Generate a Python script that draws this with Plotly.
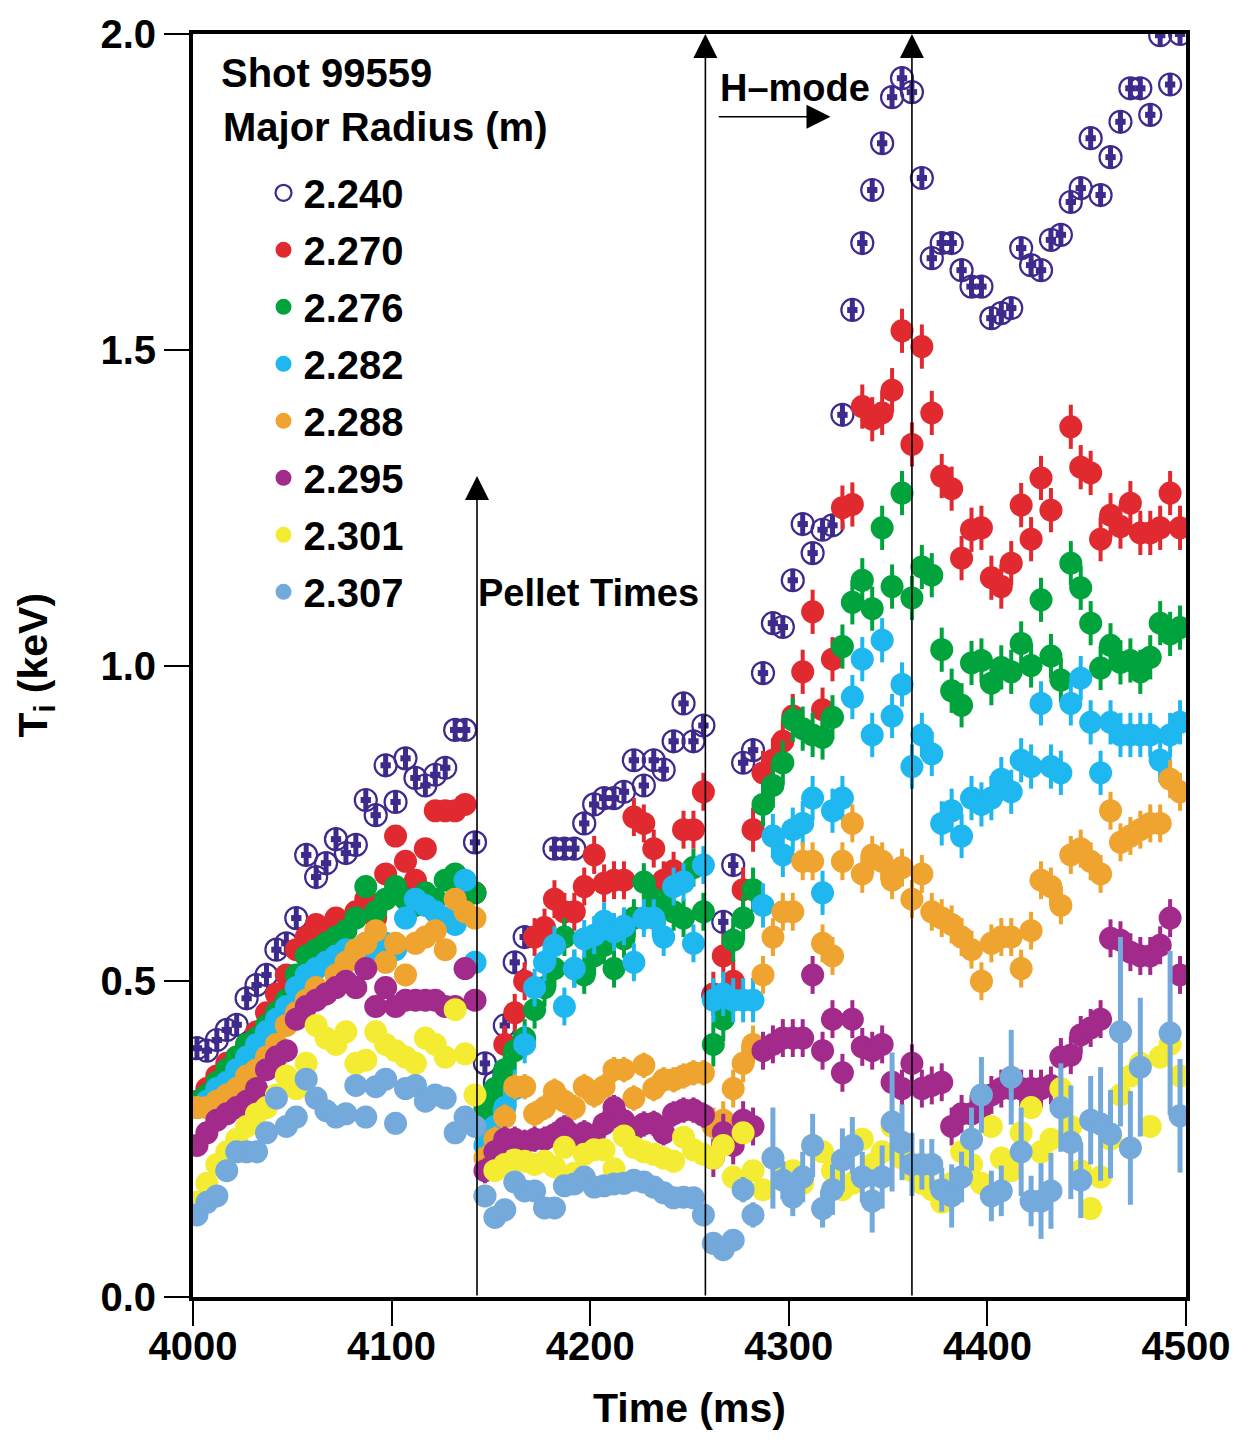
import plotly.graph_objects as go

# ---------------- data ----------------
# sampling times (ms): three pellet-separated segments, 5 ms cadence
TIME = list(range(4002, 4500, 5))  # 100 samples

RADII = ["2.240", "2.270", "2.276", "2.282", "2.288", "2.295", "2.301", "2.307"]

ti_2240 = ([0.394, 0.39, 0.407, 0.423, 0.431, 0.473, 0.494, 0.51, 0.55, 0.56, 0.60, 0.70, 0.665, 0.687,
            0.725, 0.703, 0.716, 0.787, 0.763, 0.842, 0.784, 0.853, 0.822, 0.81, 0.827, 0.838, 0.898, 0.898, 0.72]
           + [0.37, 0.34, 0.43, 0.53, 0.57, None, None, 0.71, 0.71, 0.71, 0.75, 0.78, 0.79, 0.79, 0.80, 0.85,
              0.81, 0.85, 0.835, 0.88, 0.94, 0.88, 0.905]
           + [0.478, 0.594, 0.684, 0.846, 0.866, 0.988, 1.067, 1.061, 1.135, 1.224, 1.178, 1.215, 1.222, 1.397,
              1.563, 1.669, 1.753, 1.827, 1.90, 1.93, 1.908, 1.772, 1.645, 1.669, 1.669, 1.626, 1.60, 1.60, 1.55,
              1.558, 1.566, 1.661, 1.634, 1.626, 1.674, 1.682, 1.734, 1.756, 1.835, 1.745, 1.805, 1.861, 1.914,
              1.914, 1.872, 1.998, 1.92, 2.0])

ti_2270 = ([0.31, 0.33, 0.35, 0.37, 0.38, 0.40, 0.42, 0.45, 0.48, 0.51, 0.55, 0.57, 0.59, 0.58, 0.60, 0.59,
            0.61, 0.63, 0.60, 0.67, 0.73, 0.69, 0.66, 0.71, 0.77, 0.77, 0.77, 0.78, 0.64]
           + [0.26, 0.28, 0.40, 0.45, 0.50, 0.57, 0.585, 0.63, 0.61, 0.61, 0.65, 0.70, 0.655, 0.66, 0.66, 0.76,
              0.75, 0.71, 0.66, 0.675, 0.74, 0.74, 0.80]
           + [0.48, 0.54, 0.50, 0.645, 0.74, 0.83, 0.85, 0.88, 0.92, 0.99, 1.085, 0.93, 1.01, 1.25, 1.255, 1.41,
              1.39, 1.40, 1.436, 1.53, 1.35, 1.505, 1.40, 1.30, 1.28, 1.17, 1.215, 1.218, 1.139, 1.125, 1.162,
              1.254, 1.20, 1.297, 1.246, None, 1.378, 1.314, 1.305, 1.20, 1.238, 1.22, 1.257, 1.21, 1.21, 1.218,
              1.273, 1.218])

ti_2276 = ([0.31, 0.32, 0.34, 0.36, 0.38, 0.40, 0.41, 0.43, 0.45, 0.47, 0.51, 0.54, 0.55, 0.56, 0.57, 0.58,
            0.60, 0.65, 0.61, 0.63, 0.65, 0.63, 0.62, 0.64, 0.63, 0.66, 0.67, 0.65, 0.64]
           + [0.30, 0.33, 0.36, 0.39, 0.41, 0.455, 0.49, 0.52, 0.57, 0.52, 0.51, 0.54, 0.557, 0.52, 0.567, 0.60,
              0.657, 0.63, 0.62, 0.61, 0.60, 0.68, 0.61]
           + [0.40, 0.44, 0.565, 0.60, 0.645, 0.78, 0.81, 0.846, 0.914, 0.90, 0.89, 0.886, 0.918, 1.03, 1.10,
              1.135, 1.09, 1.218, 1.125, 1.273, 1.107, 1.156, 1.143, 1.025, 0.96, 0.937, 1.004, 1.008, 0.972,
              0.997, 0.99, 1.035, 1.00, 1.104, 1.015, 0.977, 1.162, 1.123, 1.067, 0.996, 1.032, 1.005, 1.008,
              0.99, 1.013, 1.067, 1.05, 1.06])

ti_2282 = ([0.30, 0.31, 0.33, 0.34, 0.36, 0.38, 0.40, 0.42, 0.44, 0.46, 0.49, 0.51, 0.52, 0.53, 0.54, 0.55,
            0.54, 0.56, 0.55, 0.56, 0.55, 0.60, 0.63, 0.62, 0.61, 0.60, 0.59, 0.66, 0.53]
           + [0.24, 0.27, 0.30, 0.33, 0.40, 0.49, 0.53, 0.557, 0.46, 0.52, 0.567, 0.573, 0.595, 0.578, 0.587,
              0.53, 0.60, 0.60, 0.57, 0.65, 0.657, 0.56, 0.684]
           + [0.47, 0.48, 0.47, 0.47, 0.47, 0.62, 0.73, 0.70, 0.74, 0.75, 0.79, 0.64, 0.77, 0.79, 0.95, 1.01,
              0.89, 1.04, 0.92, 0.97, 0.84, 0.89, 0.86, 0.75, 0.77, 0.73, 0.79, 0.78, 0.79, 0.82, 0.80, 0.85,
              0.84, 0.94, 0.84, 0.83, 0.94, 0.98, 0.91, 0.83, 0.91, 0.89, 0.89, 0.89, 0.89, 0.85, 0.89, 0.91])

ti_2288 = ([0.30, 0.30, 0.31, 0.32, 0.33, 0.35, 0.36, 0.38, 0.40, 0.43, 0.45, 0.47, 0.49, 0.48, 0.51, 0.53,
            0.55, 0.56, 0.58, 0.53, 0.56, 0.51, 0.56, 0.57, 0.58, 0.55, 0.63, 0.61, 0.60]
           + [0.22, 0.25, 0.285, 0.333, 0.333, 0.29, 0.30, 0.326, 0.31, 0.30, 0.333, 0.32, 0.333, 0.36, 0.36,
              0.315, 0.367, 0.33, 0.344, 0.344, 0.35, 0.355, 0.355]
           + [0.27, 0.28, 0.33, 0.37, 0.40, 0.51, 0.57, 0.61, 0.61, 0.69, 0.69, 0.56, 0.54, 0.69, 0.75, 0.67,
              0.70, 0.69, 0.66, 0.68, 0.63, 0.67, 0.61, 0.60, 0.59, 0.57, 0.55, 0.50, 0.56, 0.57, 0.57, 0.52,
              0.58, 0.66, 0.65, 0.62, 0.70, 0.71, 0.69, 0.67, 0.77, 0.72, 0.73, 0.74, 0.75, 0.75, 0.82, 0.80])

ti_2295 = ([0.24, 0.26, 0.28, 0.29, 0.30, 0.31, 0.33, 0.36, 0.38, 0.39, 0.44, 0.46, 0.47, 0.48, 0.49, 0.50,
            0.49, 0.52, 0.46, 0.49, 0.46, 0.47, 0.47, 0.47, 0.47, 0.46, 0.46, 0.52, 0.47]
           + [0.20, 0.23, 0.25, 0.25, 0.245, 0.25, 0.25, 0.257, 0.268, 0.255, 0.26, 0.255, 0.274, 0.30, 0.279,
              0.265, 0.274, 0.275, 0.26, 0.29, 0.296, 0.296, 0.288]
           + [0.22, 0.26, 0.24, 0.28, 0.27, 0.39, 0.40, 0.41, 0.41, 0.41, 0.51, 0.39, 0.44, 0.355, 0.44, 0.396,
              0.39, 0.40, 0.34, 0.33, 0.37, 0.33, 0.335, 0.34, 0.27, 0.29, 0.29, 0.30, 0.32, 0.33, 0.33, 0.33,
              0.33, 0.33, 0.335, 0.38, 0.383, 0.415, 0.426, 0.44, 0.568, 0.565, 0.546, 0.54, 0.54, 0.557, 0.60,
              0.51])

ti_2301 = ([0.15, 0.18, 0.21, 0.23, 0.25, 0.27, 0.29, 0.30, 0.32, 0.35, 0.33, 0.37, 0.43, 0.41, 0.40, 0.42,
            0.37, 0.375, 0.42, 0.40, 0.39, 0.38, 0.37, 0.41, 0.40, 0.38, 0.455, 0.385, 0.32]
           + [0.16, 0.20, 0.21, 0.217, 0.215, 0.21, 0.215, 0.206, 0.237, 0.196, 0.226, 0.233, 0.233, 0.203,
              0.255, 0.237, 0.23, 0.226, 0.22, 0.215, 0.253, 0.233, 0.226]
           + [0.22, 0.24, 0.19, 0.26, 0.20, 0.17, 0.22, 0.19, 0.20, 0.18, 0.24, 0.23, 0.20, 0.17, 0.18, 0.25,
              0.21, 0.23, 0.27, 0.22, 0.20, 0.18, 0.17, 0.15, 0.18, 0.23, 0.21, 0.18, 0.27, 0.22, 0.20, 0.26,
              0.30, 0.23, 0.25, 0.33, 0.27, 0.20, 0.14, 0.19, 0.25, 0.32, 0.35, 0.37, 0.27, 0.38, 0.40, 0.35])

ti_2307 = ([0.13, 0.15, 0.16, 0.20, 0.23, 0.23, 0.23, 0.26, 0.315, 0.27, 0.285, 0.345, 0.315, 0.295, 0.285,
            0.29, 0.335, 0.285, 0.333, 0.345, 0.275, 0.33, 0.335, 0.31, 0.32, 0.315, 0.26, 0.285, 0.27]
           + [0.16, 0.126, 0.138, 0.182, 0.168, 0.168, 0.141, 0.141, 0.176, 0.179, 0.19, 0.174, 0.176, 0.179,
              0.18, 0.185, 0.182, 0.174, 0.165, 0.157, 0.158, 0.157, 0.13]
           + [0.085, 0.075, 0.09, 0.17, 0.13, None, 0.22, 0.185, 0.158, 0.19, 0.24, 0.14, 0.17, 0.217, 0.24,
              0.19, 0.152, 0.19, 0.277, 0.245, 0.21, 0.21, 0.21, 0.17, 0.16, 0.19, 0.25, 0.32, 0.16, 0.168,
              0.348, 0.23, 0.152, 0.152, 0.168, 0.30, 0.245, 0.185, 0.28, 0.274, 0.258, 0.42, 0.236, 0.364,
              None, None, 0.418, 0.287])

# error bars (keV)
err_2307 = ([0.0] * 29 + [0.0] * 23
            + [0.01, 0.01, 0.01, 0.02, 0.02, 0.0, 0.08, 0.03, 0.03, 0.04, 0.05, 0.03, 0.04, 0.05, 0.045, 0.04,
               0.05, 0.05, 0.11, 0.06, 0.05, 0.04, 0.04, 0.035, 0.05, 0.04, 0.05, 0.06, 0.04, 0.04, 0.075, 0.07,
               0.04, 0.06, 0.06, 0.07, 0.09, 0.06, 0.07, 0.09, 0.07, 0.15, 0.09, 0.11, 0.0, 0.0, 0.13, 0.09])
SEG_LEN = [29, 23, 48]
ERR_SEG = {  # per-segment error for the filled series with small stubs
    "2.270": [0.0, 0.03, 0.035],
    "2.276": [0.0, 0.03, 0.035],
    "2.282": [0.0, 0.03, 0.035],
    "2.288": [0.0, 0.02, 0.03],
    "2.295": [0.0, 0.02, 0.03],
    "2.301": [0.0, 0.0, 0.0],
}
ERR_2240 = 0.017
PELLET_TIMES = [4143, 4258, 4362]
PELLET_TOPS = [1.30, 2.0, 2.0]
HMODE_START, HMODE_END, HMODE_Y = 4264, 4321, 1.869

# ---------------- styles ----------------
COLORS = {
    "2.240": "#3D2A8C",
    "2.270": "#E12A30",
    "2.276": "#00A33C",
    "2.282": "#1EB7EF",
    "2.288": "#EEA42F",
    "2.295": "#A12A8B",
    "2.301": "#F4EC33",
    "2.307": "#74A9DB",
}
FONT = "Liberation Sans, Arial, Helvetica, sans-serif"

series = {
    "2.240": ti_2240, "2.270": ti_2270, "2.276": ti_2276, "2.282": ti_2282,
    "2.288": ti_2288, "2.295": ti_2295, "2.301": ti_2301, "2.307": ti_2307,
}


def seg_err(vals):
    out = []
    for v, n in zip(vals, SEG_LEN):
        out += [v] * n
    return out


fig = go.Figure()
for r in RADII:
    y = series[r]
    if r == "2.240":
        fig.add_trace(go.Scatter(
            x=TIME, y=y, mode="markers", name=r, legendgroup=r,
            marker=dict(symbol="circle-open", size=22, color=COLORS[r], line=dict(width=2.2, color=COLORS[r])),
            error_y=dict(type="constant", value=ERR_2240, color=COLORS[r], thickness=5, width=0),
            error_x=dict(type="constant", value=2.6, color=COLORS[r], thickness=6, width=0),
        ))
    elif r == "2.307":
        fig.add_trace(go.Scatter(
            x=TIME, y=y, mode="markers", name=r, legendgroup=r,
            marker=dict(symbol="circle", size=23, color=COLORS[r], line=dict(width=0)),
            error_y=dict(type="data", array=err_2307, color=COLORS[r], thickness=5, width=0),
        ))
    else:
        fig.add_trace(go.Scatter(
            x=TIME, y=y, mode="markers", name=r, legendgroup=r,
            marker=dict(symbol="circle", size=23, color=COLORS[r], line=dict(width=0)),
            error_y=dict(type="data", array=seg_err(ERR_SEG[r]), color=COLORS[r], thickness=4, width=0),
        ))

annotations = []
for tp, top in zip(PELLET_TIMES, PELLET_TOPS):
    annotations.append(dict(
        x=tp, y=top, ax=tp, ay=0, xref="x", yref="y", axref="x", ayref="y",
        showarrow=True, arrowhead=2, arrowsize=3.0, arrowwidth=1.6, arrowcolor="black", text="",
        standoff=0, startstandoff=0,
    ))
annotations.append(dict(
    x=HMODE_END, y=HMODE_Y, ax=HMODE_START, ay=HMODE_Y, xref="x", yref="y", axref="x", ayref="y",
    showarrow=True, arrowhead=2, arrowsize=3.0, arrowwidth=1.6, arrowcolor="black", text="",
    standoff=0, startstandoff=0,
))
ann_font = dict(family=FONT, size=40, color="black", weight="bold")
small_font = dict(family=FONT, size=38, color="black", weight="bold")
title_font = dict(family=FONT, size=41, color="black", weight="bold")
annotations += [
    dict(x=4013, y=1.938, xref="x", yref="y", text="Shot 99559", showarrow=False,
         xanchor="left", yanchor="middle", font=ann_font),
    dict(x=4014, y=1.853, xref="x", yref="y", text="Major Radius (m)", showarrow=False,
         xanchor="left", yanchor="middle", font=ann_font),
    dict(x=4199, y=1.115, xref="x", yref="y", text="Pellet Times", showarrow=False,
         xanchor="center", yanchor="middle", font=small_font),
    dict(x=4303, y=1.915, xref="x", yref="y", text="H\u2013mode", showarrow=False,
         xanchor="center", yanchor="middle", font=small_font),
    # axis titles
    dict(x=0.5, y=-0.088, xref="paper", yref="paper", text="Time (ms)", showarrow=False,
         xanchor="center", yanchor="middle", font=title_font),
    dict(x=-0.159, y=0.5, xref="paper", yref="paper", text="T<sub>i</sub> (keV)", showarrow=False,
         xanchor="center", yanchor="middle", textangle=-90, font=title_font),
]

axis_font = dict(family=FONT, size=40, color="black", weight="bold")
fig.update_layout(
    width=1227, height=1424,
    margin=dict(l=185, r=49, t=26, b=135, autoexpand=False),
    paper_bgcolor="white", plot_bgcolor="white",
    showlegend=True,
    legend=dict(x=0.071, y=0.900, xanchor="left", yanchor="top", bgcolor="rgba(0,0,0,0)",
                font=dict(family=FONT, size=40, color="black", weight="bold"),
                itemsizing="trace", tracegroupgap=2),
    annotations=annotations,
    xaxis=dict(range=[4000, 4500], tickvals=[4000, 4100, 4200, 4300, 4400, 4500],
               ticks="outside", ticklen=25, tickwidth=2, tickcolor="black",
               showline=True, linewidth=4, linecolor="black", mirror=True, automargin=False,
               showgrid=False, zeroline=False, tickfont=axis_font, ticklabeloverflow="allow",
               ticklabelstandoff=-14),
    yaxis=dict(range=[0, 2], tickvals=[0, 0.5, 1.0, 1.5, 2.0], tickformat=".1f",
               ticks="outside", ticklen=25, tickwidth=2, tickcolor="black",
               showline=True, linewidth=4, linecolor="black", mirror=True, automargin=False,
               showgrid=False, zeroline=False, tickfont=axis_font, ticklabeloverflow="allow"),
)

fig.write_html("out.html")
